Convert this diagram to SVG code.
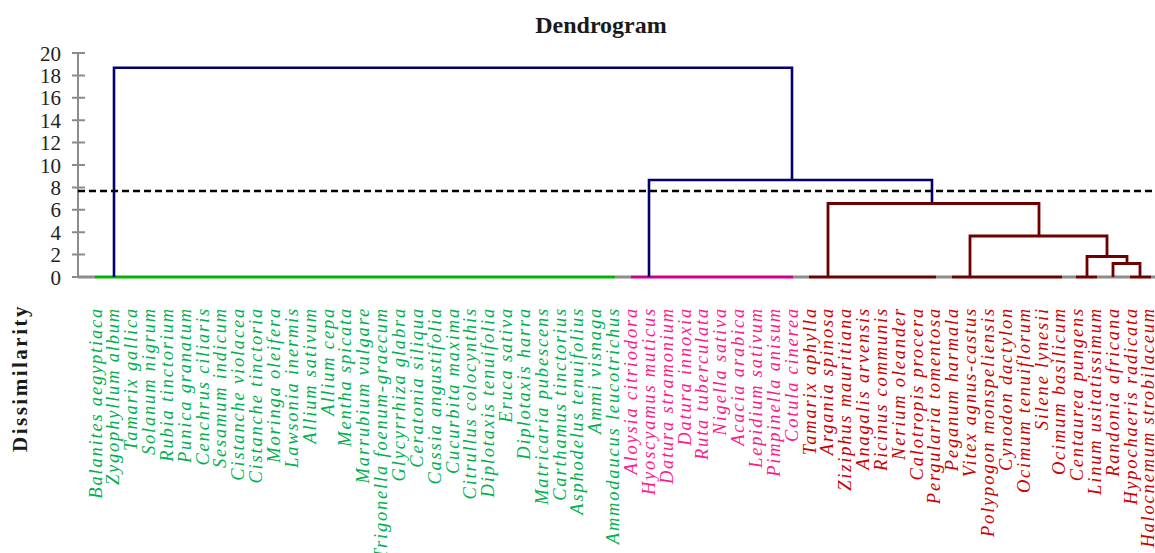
<svg xmlns="http://www.w3.org/2000/svg" width="1155" height="553" viewBox="0 0 1155 553">
<style>
.bg{fill:#ffffff}
.title{font-family:"Liberation Serif",serif;font-weight:bold;font-size:24px;fill:#1a1a1a}
.ylab{font-family:"Liberation Serif",serif;font-weight:bold;font-size:21px;letter-spacing:2.5px;fill:#1a1a1a}
.tick{font-family:"Liberation Serif",serif;font-size:21px;fill:#222222}
.axis{stroke:#8c8c8c;stroke-width:2;fill:none}
.lf{font-family:"Liberation Serif",serif;font-style:italic;font-size:18.5px;letter-spacing:1.8px}
.g{fill:#00b050}
.m{fill:#ff1a8c}
.r{fill:#cc0000}
.blue{stroke:#000070;stroke-width:2.6;fill:none}
.mar{stroke:#6e0000;stroke-width:2.8;fill:none}
.base{stroke-width:3;fill:none}
.cut{stroke:#000000;stroke-width:2.5;stroke-dasharray:7 4;fill:none}
</style>
<rect class="bg" x="0" y="0" width="1155" height="553"/>
<text class="title" x="601" y="33" text-anchor="middle">Dendrogram</text>
<text class="ylab" transform="translate(27,378) rotate(-90)" text-anchor="middle">Dissimilarity</text>
<g id="y-axis">
<path class="axis" d="M78,53 V277 M72,53 H85 M72,75.4 H85 M72,97.8 H85 M72,120.2 H85 M72,142.6 H85 M72,165 H85 M72,187.4 H85 M72,209.8 H85 M72,232.2 H85 M72,254.6 H85 M72,277 H85"/>
<text class="tick" x="61" y="60.5" text-anchor="end">20</text>
<text class="tick" x="61" y="82.9" text-anchor="end">18</text>
<text class="tick" x="61" y="105.3" text-anchor="end">16</text>
<text class="tick" x="61" y="127.7" text-anchor="end">14</text>
<text class="tick" x="61" y="150.1" text-anchor="end">12</text>
<text class="tick" x="61" y="172.5" text-anchor="end">10</text>
<text class="tick" x="61" y="194.9" text-anchor="end">8</text>
<text class="tick" x="61" y="217.3" text-anchor="end">6</text>
<text class="tick" x="61" y="239.7" text-anchor="end">4</text>
<text class="tick" x="61" y="262.1" text-anchor="end">2</text>
<text class="tick" x="61" y="284.5" text-anchor="end">0</text>
</g>
<g id="connectors">
<path class="base" stroke="#8c8c8c" d="M78,277 H95 M615,277 H631 M793,277 H809 M936,277 H952 M1062,277 H1076 M1097,277 H1130 M1151,277 H1155"/>
<path class="base" stroke="#00b400" d="M95,277 H615"/>
<path class="base" stroke="#d0008f" d="M631,277 H793"/>
<path class="base" stroke="#6e0000" d="M809,277 H936 M952,277 H1062 M1076,277 H1097 M1130,277 H1151"/>
<path class="blue" d="M114,277 V67.7 H792 V180"/>
<path class="blue" d="M649,277 V180 H932 V203.5"/>
<path class="mar" d="M828,277 V203.5 H1039 V236"/>
<path class="mar" d="M970,277 V236 H1107 V256.5"/>
<path class="mar" d="M1087,277 V256.5 H1127 V263.5"/>
<path class="mar" d="M1113,277 V263.5 H1140 V277"/>
<path class="cut" d="M78,191 H1155"/>
</g>
<g id="leaves">
<g id="leaf-01"><text class="lf g" transform="translate(101.5,307) rotate(-90)" text-anchor="end">Balanites aegyptiaca</text></g>
<g id="leaf-02"><text class="lf g" transform="translate(119.35,307) rotate(-90)" text-anchor="end">Zygophyllum album</text></g>
<g id="leaf-03"><text class="lf g" transform="translate(137.2,307) rotate(-90)" text-anchor="end">Tamarix gallica</text></g>
<g id="leaf-04"><text class="lf g" transform="translate(155.05,307) rotate(-90)" text-anchor="end">Solanum nigrum</text></g>
<g id="leaf-05"><text class="lf g" transform="translate(172.9,307) rotate(-90)" text-anchor="end">Rubia tinctorium</text></g>
<g id="leaf-06"><text class="lf g" transform="translate(190.75,307) rotate(-90)" text-anchor="end">Punica granatum</text></g>
<g id="leaf-07"><text class="lf g" transform="translate(208.6,307) rotate(-90)" text-anchor="end">Cenchrus ciliaris</text></g>
<g id="leaf-08"><text class="lf g" transform="translate(226.45,307) rotate(-90)" text-anchor="end">Sesamum indicum</text></g>
<g id="leaf-09"><text class="lf g" transform="translate(244.3,307) rotate(-90)" text-anchor="end">Cistanche violacea</text></g>
<g id="leaf-10"><text class="lf g" transform="translate(262.15,307) rotate(-90)" text-anchor="end">Cistanche tinctoria</text></g>
<g id="leaf-11"><text class="lf g" transform="translate(280,307) rotate(-90)" text-anchor="end">Moringa oleifera</text></g>
<g id="leaf-12"><text class="lf g" transform="translate(297.85,307) rotate(-90)" text-anchor="end">Lawsonia inermis</text></g>
<g id="leaf-13"><text class="lf g" transform="translate(315.7,307) rotate(-90)" text-anchor="end">Allium sativum</text></g>
<g id="leaf-14"><text class="lf g" transform="translate(333.55,307) rotate(-90)" text-anchor="end">Allium cepa</text></g>
<g id="leaf-15"><text class="lf g" transform="translate(351.4,307) rotate(-90)" text-anchor="end">Mentha spicata</text></g>
<g id="leaf-16"><text class="lf g" transform="translate(369.25,307) rotate(-90)" text-anchor="end">Marrubium vulgare</text></g>
<g id="leaf-17"><text class="lf g" transform="translate(387.1,307) rotate(-90)" text-anchor="end">Trigonella foenum-graecum</text></g>
<g id="leaf-18"><text class="lf g" transform="translate(404.95,307) rotate(-90)" text-anchor="end">Glycyrrhiza glabra</text></g>
<g id="leaf-19"><text class="lf g" transform="translate(422.8,307) rotate(-90)" text-anchor="end">Ceratonia siliqua</text></g>
<g id="leaf-20"><text class="lf g" transform="translate(440.65,307) rotate(-90)" text-anchor="end">Cassia angustifolia</text></g>
<g id="leaf-21"><text class="lf g" transform="translate(458.5,307) rotate(-90)" text-anchor="end">Cucurbita maxima</text></g>
<g id="leaf-22"><text class="lf g" transform="translate(476.35,307) rotate(-90)" text-anchor="end">Citrullus colocynthis</text></g>
<g id="leaf-23"><text class="lf g" transform="translate(494.2,307) rotate(-90)" text-anchor="end">Diplotaxis tenuifolia</text></g>
<g id="leaf-24"><text class="lf g" transform="translate(512.05,307) rotate(-90)" text-anchor="end">Eruca sativa</text></g>
<g id="leaf-25"><text class="lf g" transform="translate(529.9,307) rotate(-90)" text-anchor="end">Diplotaxis harra</text></g>
<g id="leaf-26"><text class="lf g" transform="translate(547.75,307) rotate(-90)" text-anchor="end">Matricaria pubescens</text></g>
<g id="leaf-27"><text class="lf g" transform="translate(565.6,307) rotate(-90)" text-anchor="end">Carthamus tinctorius</text></g>
<g id="leaf-28"><text class="lf g" transform="translate(583.45,307) rotate(-90)" text-anchor="end">Asphodelus tenuifolius</text></g>
<g id="leaf-29"><text class="lf g" transform="translate(601.3,307) rotate(-90)" text-anchor="end">Ammi  visnaga</text></g>
<g id="leaf-30"><text class="lf g" transform="translate(619.15,307) rotate(-90)" text-anchor="end">Ammodaucus leucotrichus</text></g>
<g id="leaf-31"><text class="lf m" transform="translate(637,307) rotate(-90)" text-anchor="end">Aloysia citriodora</text></g>
<g id="leaf-32"><text class="lf m" transform="translate(654.85,307) rotate(-90)" text-anchor="end">Hyoscyamus  muticus</text></g>
<g id="leaf-33"><text class="lf m" transform="translate(672.7,307) rotate(-90)" text-anchor="end">Datura stramonium</text></g>
<g id="leaf-34"><text class="lf m" transform="translate(690.55,307) rotate(-90)" text-anchor="end">Datura innoxia</text></g>
<g id="leaf-35"><text class="lf m" transform="translate(708.4,307) rotate(-90)" text-anchor="end">Ruta tuberculata</text></g>
<g id="leaf-36"><text class="lf m" transform="translate(726.25,307) rotate(-90)" text-anchor="end">Nigella sativa</text></g>
<g id="leaf-37"><text class="lf m" transform="translate(744.1,307) rotate(-90)" text-anchor="end">Acacia arabica</text></g>
<g id="leaf-38"><text class="lf m" transform="translate(761.95,307) rotate(-90)" text-anchor="end">Lepidium sativum</text></g>
<g id="leaf-39"><text class="lf m" transform="translate(779.8,307) rotate(-90)" text-anchor="end">Pimpinella anisum</text></g>
<g id="leaf-40"><text class="lf m" transform="translate(797.65,307) rotate(-90)" text-anchor="end">Cotula cinerea</text></g>
<g id="leaf-41"><text class="lf r" transform="translate(815.5,307) rotate(-90)" text-anchor="end">Tamarix aphylla</text></g>
<g id="leaf-42"><text class="lf r" transform="translate(833.35,307) rotate(-90)" text-anchor="end">Argania spinosa</text></g>
<g id="leaf-43"><text class="lf r" transform="translate(851.2,307) rotate(-90)" text-anchor="end">Ziziphus mauritiana</text></g>
<g id="leaf-44"><text class="lf r" transform="translate(869.05,307) rotate(-90)" text-anchor="end">Anagalis arvensis</text></g>
<g id="leaf-45"><text class="lf r" transform="translate(886.9,307) rotate(-90)" text-anchor="end">Ricinus communis</text></g>
<g id="leaf-46"><text class="lf r" transform="translate(904.75,307) rotate(-90)" text-anchor="end">Nerium oleander</text></g>
<g id="leaf-47"><text class="lf r" transform="translate(922.6,307) rotate(-90)" text-anchor="end">Calotropis  procera</text></g>
<g id="leaf-48"><text class="lf r" transform="translate(940.45,307) rotate(-90)" text-anchor="end">Pergularia tomentosa</text></g>
<g id="leaf-49"><text class="lf r" transform="translate(958.3,307) rotate(-90)" text-anchor="end">Peganum harmala</text></g>
<g id="leaf-50"><text class="lf r" transform="translate(976.15,307) rotate(-90)" text-anchor="end">Vitex agnus-castus</text></g>
<g id="leaf-51"><text class="lf r" transform="translate(994,307) rotate(-90)" text-anchor="end">Polypogon monspeliensis</text></g>
<g id="leaf-52"><text class="lf r" transform="translate(1011.85,307) rotate(-90)" text-anchor="end">Cynodon dactylon</text></g>
<g id="leaf-53"><text class="lf r" transform="translate(1029.7,307) rotate(-90)" text-anchor="end">Ocimum  tenuiflorum</text></g>
<g id="leaf-54"><text class="lf r" transform="translate(1047.55,307) rotate(-90)" text-anchor="end">Silene lynesii</text></g>
<g id="leaf-55"><text class="lf r" transform="translate(1065.4,307) rotate(-90)" text-anchor="end">Ocimum  basilicum</text></g>
<g id="leaf-56"><text class="lf r" transform="translate(1083.25,307) rotate(-90)" text-anchor="end">Centaurea pungens</text></g>
<g id="leaf-57"><text class="lf r" transform="translate(1101.1,307) rotate(-90)" text-anchor="end">Linum usitatissimum</text></g>
<g id="leaf-58"><text class="lf r" transform="translate(1118.95,307) rotate(-90)" text-anchor="end">Randonia africana</text></g>
<g id="leaf-59"><text class="lf r" transform="translate(1136.8,307) rotate(-90)" text-anchor="end">Hypochaeris radicata</text></g>
<g id="leaf-60"><text class="lf r" transform="translate(1153.5,307) rotate(-90)" text-anchor="end">Halocnemum strobilaceum</text></g>
</g>
</svg>
